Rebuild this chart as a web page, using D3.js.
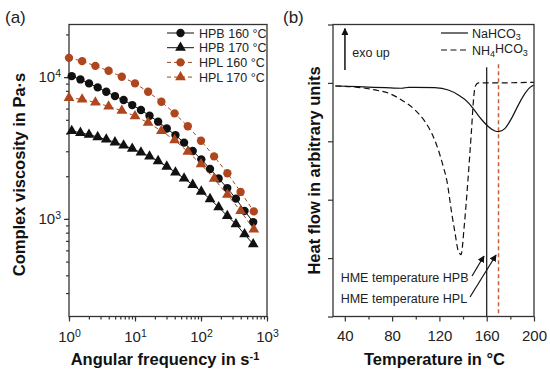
<!DOCTYPE html>
<html>
<head>
<meta charset="utf-8">
<script src="https://cdnjs.cloudflare.com/ajax/libs/d3/7.8.5/d3.min.js"></script>
<style>
    body { margin: 0; background: #fff; }
    svg { font-family: Arial, "Liberation Sans", sans-serif; background: #fff; }
    .frame { fill: none; stroke: #333; stroke-width: 1.3; }
    .axis path { display: none; }
    .axis line { stroke: #333; stroke-width: 1.2; }
    .axis text { font-size: 15px; fill: #222; font-family: Arial, "Liberation Sans", sans-serif; }
    .title { font-size: 16.5px; font-weight: bold; fill: #111; }
    .legend { font-size: 12.5px; fill: #222; }
    .panel { font-size: 17px; fill: #222; }
</style>
</head>
<body>
<svg width="550" height="374"></svg>
<script>

// ---- data, panel (a): complex viscosity vs angular frequency
var hpbFreq = [1.10, 1.49, 2.01, 2.72, 3.67, 4.97, 6.72, 9.08, 12.3, 16.6, 22.4,
               30.3, 41.0, 55.4, 74.9, 101, 137, 185, 250, 338, 457, 618];
var hpb160 = [10160, 9630, 9030, 8460, 7880, 7350, 6890, 6350, 5860, 5340, 4850,
              4340, 3900, 3450, 3010, 2630, 2250, 1930, 1650, 1390, 1140, 950];
var hpb170 = [4170, 4050, 3930, 3780, 3630, 3470, 3300, 3130, 2940, 2760, 2560,
              2340, 2130, 1930, 1740, 1560, 1380, 1210, 1050, 918, 780, 663];

var hplFreq = [1, 1.58, 2.51, 3.98, 6.31, 10, 15.8, 25.1, 39.8, 63.1, 100, 158, 251, 398, 631];
var hpl160 = [13670, 12960, 12010, 11080, 10050, 9030, 7880, 6700, 5550, 4500, 3560, 2760, 2100, 1550, 1130];
var hpl170 = [7150, 6970, 6630, 6220, 5790, 5310, 4770, 4170, 3600, 2980, 2430, 1920, 1480, 1140, 844];

var seriesA = ["HPB 160 °C", "HPB 170 °C", "HPL 160 °C", "HPL 170 °C"];
var freqTicks = [1, 10, 100, 1000];
var viscTicks = [1000, 10000];

// ---- data, panel (b): DSC heat flow
var naTemp = [32, 51, 74, 88, 94, 99, 116, 127.5, 136, 145, 150.5, 156, 161.5,
              167, 170, 175.5, 181, 186.7, 192.4, 196.6, 200];
var naFlow = [3.947, 3.935, 3.918, 3.908, 3.925, 3.925, 3.918, 3.878, 3.793, 3.651, 3.507, 3.365, 3.25,
              3.176, 3.164, 3.221, 3.393, 3.62, 3.82, 3.923, 3.963];

var nhTemp = [32, 51, 65.5, 77, 88, 99.4, 107.8, 113.5, 119.1, 123.3, 126.2, 130.4, 133.2, 136,
              138.3, 141, 144, 147, 149, 150.5, 153, 164, 200];
var nhFlow = [3.947, 3.925, 3.88, 3.824, 3.707, 3.536, 3.336, 3.137, 2.851, 2.565, 2.337, 1.77, 1.43, 1.12,
              1.06, 1.55, 2.3, 3.15, 3.75, 3.95, 4.0, 4.0, 4.01];

var seriesB = ["NaHCO", "NH", "HCO"];
var hmeTemps = [160, 170];
var hmeTops = [4.27, 4.32];
var tempTicks = [40, 80, 120, 160, 200];
var tempMinor = [60, 100, 140, 180];
var flowTicks = [0, 1, 2, 3, 4, 5];

var svg = d3.select("svg");

// ================= panel (a) =================
var a = {left: 69, right: 267, top: 24.5, bottom: 316.5};

var xA = d3.scaleLog().domain([1, 1000]).range([a.left, a.right]);
var yA = d3.scaleLog().domain([205, 23500]).range([a.bottom, a.top]);

// superscript labels like 10^3
var powerLabels = function (g) {
    g.selectAll(".tick text").each(function (d) {
        var t = d3.select(this).text("");
        t.append("tspan").text("10");
        t.append("tspan")
            .attr("dy", "-0.5em")
            .style("font-size", "10.5px")
            .text(Math.round(Math.log10(d)));
    });
};

// minor ticks
svg.append("g")
    .attr("class", "axis")
    .attr("transform", "translate(0," + a.bottom + ")")
    .call(d3.axisBottom(xA).tickValues(xA.ticks()).tickSize(3).tickFormat(""));

svg.append("g")
    .attr("class", "axis")
    .attr("transform", "translate(" + a.left + ",0)")
    .call(d3.axisLeft(yA).tickValues(yA.ticks()).tickSize(3).tickFormat(""));

// major ticks
svg.append("g")
    .attr("class", "axis")
    .attr("transform", "translate(0," + a.bottom + ")")
    .call(d3.axisBottom(xA).tickValues(freqTicks).tickSize(5).tickPadding(10))
    .call(powerLabels);

svg.append("g")
    .attr("class", "axis")
    .attr("transform", "translate(" + a.left + ",0)")
    .call(d3.axisLeft(yA).tickValues(viscTicks).tickSize(5).tickPadding(3))
    .call(powerLabels);

svg.append("rect")
    .attr("class", "frame")
    .attr("x", a.left).attr("y", a.top)
    .attr("width", a.right - a.left).attr("height", a.bottom - a.top);

var hpbColor = "#111";
var hplColor = "#b0461e";

var line = function (freq) {
    return d3.line()
        .x(function (d, i) { return xA(freq[i]); })
        .y(function (d) { return yA(d); });
};

var drawSeries = function (freq, vals, color, dashed, shape) {
    svg.append("path")
        .datum(vals)
        .attr("d", line(freq))
        .attr("fill", "none")
        .attr("stroke", dashed ? "#9a4a22" : color)
        .attr("stroke-width", 1)
        .attr("stroke-dasharray", dashed ? "4,3" : null);

    svg.selectAll(null)
        .data(vals)
        .enter()
        .append("path")
        .attr("d", d3.symbol().type(shape).size(shape === d3.symbolCircle ? 55 : 50))
        .attr("transform", function (d, i) {
            return "translate(" + xA(freq[i]) + "," + yA(d) + ")";
        })
        .attr("fill", color);
};

drawSeries(hpbFreq, hpb160, hpbColor, false, d3.symbolCircle);
drawSeries(hpbFreq, hpb170, hpbColor, false, d3.symbolTriangle);
drawSeries(hplFreq, hpl160, hplColor, true, d3.symbolCircle);
drawSeries(hplFreq, hpl170, hplColor, true, d3.symbolTriangle);

// legend (a)
var legA = svg.append("g").attr("transform", "translate(167,33)");
seriesA.forEach(function (name, i) {
    var hpl = name.indexOf("HPL") === 0;
    var g = legA.append("g").attr("transform", "translate(0," + (i * 14.7) + ")");
    g.append("line")
        .attr("x1", 0).attr("x2", 27)
        .attr("stroke", hpl ? "#9a4a22" : hpbColor)
        .attr("stroke-width", 1)
        .attr("stroke-dasharray", hpl ? "4,3" : null);
    g.append("path")
        .attr("d", d3.symbol().type(i % 2 === 0 ? d3.symbolCircle : d3.symbolTriangle)
            .size(i % 2 === 0 ? 55 : 50))
        .attr("transform", "translate(13.5,0)")
        .attr("fill", hpl ? hplColor : hpbColor);
    g.append("text")
        .attr("class", "legend")
        .attr("x", 32).attr("y", 4.5)
        .text(name);
});

// titles (a)
svg.append("text")
    .attr("class", "title")
    .attr("x", (a.left + a.right) / 2 - 3)
    .attr("y", 365)
    .attr("text-anchor", "middle")
    .text("Angular frequency in s")
    .append("tspan")
    .attr("dy", "-0.5em")
    .style("font-size", "11px")
    .text("-1");

svg.append("text")
    .attr("class", "title")
    .attr("transform", "translate(25," + ((a.top + a.bottom) / 2 + 4) + ") rotate(-90)")
    .attr("text-anchor", "middle")
    .text("Complex viscosity in Pa·s");

svg.append("text")
    .attr("class", "panel")
    .attr("x", 5).attr("y", 23)
    .text("(a)");

// ================= panel (b) =================
var b = {left: 333, right: 534, top: 24.5, bottom: 316.5};

var xB = d3.scaleLinear().domain([30, 200]).range([b.left, b.right]);
var yB = d3.scaleLinear().domain([0, 5]).range([b.bottom, b.top]);

svg.append("g")
    .attr("class", "axis")
    .attr("transform", "translate(0," + b.bottom + ")")
    .call(d3.axisBottom(xB).tickValues(tempMinor).tickSize(3).tickFormat(""));

svg.append("g")
    .attr("class", "axis")
    .attr("transform", "translate(0," + b.bottom + ")")
    .call(d3.axisBottom(xB).tickValues(tempTicks).tickSize(5).tickPadding(9));

svg.append("g")
    .attr("class", "axis")
    .attr("transform", "translate(" + b.left + ",0)")
    .call(d3.axisLeft(yB).tickValues(flowTicks).tickSize(5).tickFormat(""));

// HME temperature lines
svg.selectAll(null)
    .data(hmeTemps)
    .enter()
    .append("line")
    .attr("x1", function (d) { return xB(d); })
    .attr("x2", function (d) { return xB(d); })
    .attr("y1", function (d, i) { return yB(hmeTops[i]); })
    .attr("y2", b.bottom)
    .attr("stroke", function (d, i) { return i === 0 ? "#111" : "#c8603a"; })
    .attr("stroke-width", function (d, i) { return i === 0 ? 1.2 : 1.5; })
    .attr("stroke-dasharray", function (d, i) { return i === 0 ? null : "4,3"; });

var dsc = d3.line()
    .x(function (d) { return xB(d[0]); })
    .y(function (d) { return yB(d[1]); })
    .curve(d3.curveMonotoneX);

svg.append("path")
    .datum(naTemp.map(function (t, i) { return [t, naFlow[i]]; }))
    .attr("d", dsc)
    .attr("fill", "none")
    .attr("stroke", "#111")
    .attr("stroke-width", 1.2);

svg.append("path")
    .datum(nhTemp.map(function (t, i) { return [t, nhFlow[i]]; }))
    .attr("d", dsc)
    .attr("fill", "none")
    .attr("stroke", "#111")
    .attr("stroke-width", 1.2)
    .attr("stroke-dasharray", "6,3.5");

svg.append("rect")
    .attr("class", "frame")
    .attr("x", b.left).attr("y", b.top)
    .attr("width", b.right - b.left).attr("height", b.bottom - b.top);

// arrowheads
svg.append("defs").append("marker")
    .attr("id", "head")
    .attr("viewBox", "0 0 10 10")
    .attr("refX", 9).attr("refY", 5)
    .attr("markerWidth", 7).attr("markerHeight", 7)
    .attr("markerUnits", "userSpaceOnUse")
    .attr("orient", "auto")
    .append("path")
    .attr("d", "M0,0 L10,5 L0,10 z")
    .attr("fill", "#111");

// exo up
svg.append("line")
    .attr("x1", xB(40.1)).attr("x2", xB(40.1))
    .attr("y1", yB(4.22)).attr("y2", yB(4.93))
    .attr("stroke", "#111").attr("stroke-width", 1.5)
    .attr("marker-end", "url(#head)");

svg.append("text")
    .attr("class", "legend")
    .attr("x", xB(46.3)).attr("y", yB(4.44))
    .text("exo up");

// HME annotations
var notes = [
    {label: "HME temperature HPB", v: 0.596, from: [147.6, 0.693], to: [157.7, 1.036]},
    {label: "HME temperature HPL", v: 0.226, from: [145.9, 0.334], to: [167.9, 1.053]}
];
notes.forEach(function (n) {
    svg.append("text")
        .attr("class", "legend")
        .attr("x", xB(36.5)).attr("y", yB(n.v))
        .text(n.label);
    svg.append("line")
        .attr("x1", xB(n.from[0])).attr("y1", yB(n.from[1]))
        .attr("x2", xB(n.to[0])).attr("y2", yB(n.to[1]))
        .attr("stroke", "#111").attr("stroke-width", 1.2)
        .attr("marker-end", "url(#head)");
});

// legend (b)
var legB = svg.append("g").attr("transform", "translate(441,33)");
legB.append("line")
    .attr("x1", 0).attr("x2", 27)
    .attr("stroke", "#111").attr("stroke-width", 1.2);
legB.append("text")
    .attr("class", "legend")
    .attr("x", 31).attr("y", 4.5)
    .text(seriesB[0])
    .append("tspan").attr("dy", "0.3em").style("font-size", "9px").text("3");

legB.append("line")
    .attr("x1", 0).attr("x2", 27)
    .attr("y1", 17).attr("y2", 17)
    .attr("stroke", "#111").attr("stroke-width", 1.2)
    .attr("stroke-dasharray", "6,3.5");
var nhLabel = legB.append("text")
    .attr("class", "legend")
    .attr("x", 31).attr("y", 21.5)
    .text(seriesB[1]);
nhLabel.append("tspan").attr("dy", "0.3em").style("font-size", "9px").text("4");
nhLabel.append("tspan").attr("dy", "-0.3em").text(seriesB[2]);
nhLabel.append("tspan").attr("dy", "0.3em").style("font-size", "9px").text("3");

// titles (b)
svg.append("text")
    .attr("class", "title")
    .attr("x", (b.left + b.right) / 2 + 1)
    .attr("y", 365)
    .attr("text-anchor", "middle")
    .text("Temperature in °C");

svg.append("text")
    .attr("class", "title")
    .attr("transform", "translate(320," + ((b.top + b.bottom) / 2) + ") rotate(-90)")
    .attr("text-anchor", "middle")
    .text("Heat flow in arbitrary units");

svg.append("text")
    .attr("class", "panel")
    .attr("x", 283).attr("y", 23)
    .text("(b)");

</script>
</body>
</html>
